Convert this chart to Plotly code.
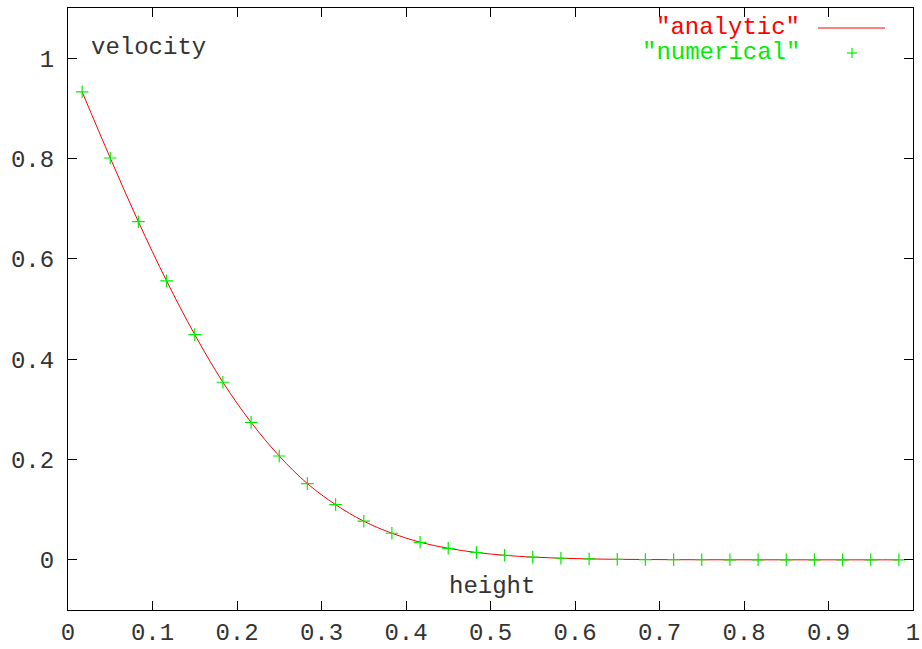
import plotly.graph_objects as go

# data
height = [0.0167, 0.05, 0.0833, 0.1167, 0.15, 0.1833, 0.2167, 0.25, 0.2833, 0.3167,
          0.35, 0.3833, 0.4167, 0.45, 0.4833, 0.5167, 0.55, 0.5833, 0.6167, 0.65,
          0.6833, 0.7167, 0.75, 0.7833, 0.8167, 0.85, 0.8833, 0.9167, 0.95, 0.9833]
analytic = [0.933, 0.801, 0.674, 0.556, 0.449, 0.354, 0.274, 0.207, 0.152, 0.110,
            0.077, 0.053, 0.035, 0.023, 0.0146, 0.0091, 0.0054, 0.0032, 0.0018, 0.0010,
            0.0006, 0.0003, 0.00016, 0.00008, 0.00004, 0.00002, 0.0, 0.0, 0.0, 0.0]
numerical = [0.933, 0.801, 0.674, 0.556, 0.449, 0.354, 0.274, 0.207, 0.152, 0.110,
             0.077, 0.053, 0.035, 0.023, 0.0146, 0.0091, 0.0054, 0.0032, 0.0018, 0.0010,
             0.0006, 0.0003, 0.00016, 0.00008, 0.00004, 0.00002, 0.0, 0.0, 0.0, 0.0]
xticks = [0, 0.1, 0.2, 0.3, 0.4, 0.5, 0.6, 0.7, 0.8, 0.9, 1]
xticklabels = ["0", "0.1", "0.2", "0.3", "0.4", "0.5", "0.6", "0.7", "0.8", "0.9", "1"]
yticks = [0, 0.2, 0.4, 0.6, 0.8, 1]
yticklabels = ["0", "0.2", "0.4", "0.6", "0.8", "1"]

FONT = "Liberation Mono, Courier New, monospace"
FS = 24
RED = "#ff0000"
GREEN = "#00ee00"
TXT = "#333333"

fig = go.Figure()
fig.add_trace(go.Scatter(x=height, y=analytic, mode="lines", name="analytic",
                         line=dict(color=RED, width=1, shape="spline")))
fig.add_trace(go.Scatter(x=height, y=numerical, mode="markers", name="numerical",
                         marker=dict(symbol="cross-thin", size=9,
                                     line=dict(color=GREEN, width=1.2))))

W, H = 922, 649
L, R, T, B = 68, 9, 8, 39
pw, ph = W - L - R, H - T - B

def px(x):
    return (x - L) / pw

def py(y):
    return 1 - (y - T) / ph

axis_common = dict(showline=True, linecolor="#000000", linewidth=1, mirror="allticks",
                   ticks="inside", ticklen=9, tickcolor="#000000", tickwidth=1,
                   showgrid=False, zeroline=False, automargin=False,
                   tickfont=dict(family=FONT, size=FS, color=TXT))

fig.update_layout(
    width=W, height=H,
    margin=dict(l=L, r=R, t=T, b=B, autoexpand=False),
    paper_bgcolor="white", plot_bgcolor="white",
    showlegend=False,
    xaxis=dict(range=[0, 1], tickvals=xticks, ticktext=xticklabels,
               ticklabelstandoff=0, **axis_common),
    yaxis=dict(range=[-0.1, 1.1], tickvals=yticks, ticktext=yticklabels,
               ticklabelstandoff=8, **axis_common),
)

ann = [
    dict(text="velocity", x=px(89), y=py(47), xanchor="left", yanchor="middle",
         font=dict(family=FONT, size=FS, color=TXT)),
    dict(text="height", x=px(447), y=py(586), xanchor="left", yanchor="middle",
         font=dict(family=FONT, size=FS, color=TXT)),
    dict(text='"analytic"', x=px(802), y=py(28), xanchor="right", yanchor="middle",
         font=dict(family=FONT, size=FS, color=RED)),
    dict(text='"numerical"', x=px(802), y=py(53), xanchor="right", yanchor="middle",
         font=dict(family=FONT, size=FS, color=GREEN)),
]
for a in ann:
    a.update(xref="paper", yref="paper", showarrow=False)
fig.update_layout(annotations=ann)

# legend samples
fig.add_shape(type="line", xref="paper", yref="paper", x0=px(818), x1=px(885),
              y0=py(28), y1=py(28), line=dict(color=RED, width=1))
fig.add_shape(type="line", xref="paper", yref="paper", x0=px(847), x1=px(857),
              y0=py(53), y1=py(53), line=dict(color=GREEN, width=1.2))
fig.add_shape(type="line", xref="paper", yref="paper", x0=px(852), x1=px(852),
              y0=py(48), y1=py(58), line=dict(color=GREEN, width=1.2))

fig.write_html("out.html")
